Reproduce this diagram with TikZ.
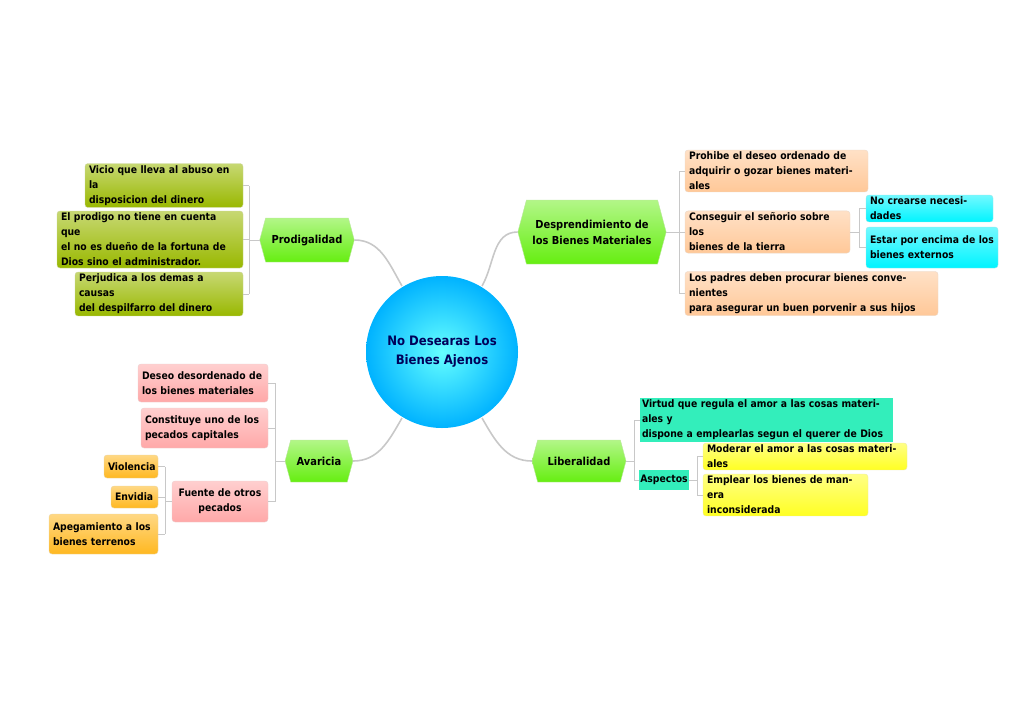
\documentclass[tikz,border=0pt]{standalone}
\usepackage{fontspec}
\setmainfont{DejaVu Sans Condensed}
\usetikzlibrary{shapes.symbols,calc}
\definecolor{olive}{HTML}{99B800}
\definecolor{peach}{HTML}{FFC898}
\definecolor{pinkl}{HTML}{FFA8A8}
\definecolor{orng}{HTML}{FFB820}
\definecolor{tealc}{HTML}{33EEBB}
\definecolor{yel}{HTML}{FFFF22}
\definecolor{cyn}{HTML}{00F4FF}
\definecolor{grn}{HTML}{66EE11}
\definecolor{ln}{HTML}{C8C8C8}
\tikzset{
 leaf/.style={rounded corners=3pt,align=left,inner xsep=4pt,inner ysep=2pt,font=\bfseries\fontsize{10.3}{15}\selectfont,draw=#1!80!black!40!white,top color=#1!55!white,bottom color=#1},
 mainn/.style={signal,signal to=east and west,signal pointer angle=150,draw=grn!80!black!40!white,top color=grn!50!white,bottom color=grn,align=center,font=\bfseries\fontsize{11}{16}\selectfont,inner xsep=6pt,inner ysep=4pt},
 conn/.style={draw=ln,line width=0.8pt},
 curve/.style={draw=ln,line width=1.6pt},
}
\newcommand{\leafbox}[7]{\node[leaf=#6,minimum width={#4-#2},minimum height={#5-#3},text width={#4-#2-8},anchor=center] (#1) at ({(#2+#4)/2},{(#3+#5)/2}) {#7};}
\begin{document}
\begin{tikzpicture}[x=1pt,y=-1pt]
\useasboundingbox (0,0) rectangle (1024,724);
% center
\shade[inner color=cyan!60!white,outer color=cyan!70!blue] (442,352) circle (76);
\node[circle,minimum size=152pt,align=center,font=\bfseries\fontsize{13}{19}\selectfont,text=blue!35!black] (c) at (442,352) {No Desearas Los\\Bienes Ajenos};
% main nodes
\node[mainn,minimum width=90pt,minimum height=44pt] (pr) at (307,240) {Prodigalidad};
\node[mainn,minimum width=140pt,minimum height=64pt] (de) at (592,232) {Desprendimiento de\\los Bienes Materiales};
\node[mainn,minimum width=66pt,minimum height=42pt] (av) at (319,461) {Avaricia};
\node[mainn,minimum width=94pt,minimum height=42pt] (li) at (579,461) {Liberalidad};
\draw[curve] (pr.east) to[out=0,in=120] ($(c)+(-40,-66)$);
\draw[curve] (de.west) to[out=180,in=60] ($(c)+(40,-66)$);
\draw[curve] (av.east) to[out=0,in=-120] ($(c)+(-40,66)$);
\draw[curve] (li.west) to[out=180,in=-60] ($(c)+(40,66)$);
% Prodigalidad leaves
\leafbox{p1}{85}{167}{243}{204}{olive}{Vicio que lleva al abuso en la\\disposicion del dinero}
\leafbox{p2}{57}{211}{243}{268}{olive}{El prodigo no tiene en cuenta que\\el no es dueño de la fortuna de\\Dios sino el administrador.}
\leafbox{p3}{75}{275}{243}{313}{olive}{Perjudica a los demas a causas\\del despilfarro del dinero}
\coordinate (bp) at (249,0);
\draw[conn] (pr.west) -- (pr.west -| bp);
\foreach \n in {p1,p2,p3} \draw[conn] (\n.east) -- (\n.east -| bp);
\draw[conn] (p1.east -| bp) -- (p3.east -| bp);
% Desprendimiento leaves
\leafbox{d1}{685}{152}{868}{190}{peach}{Prohibe el deseo ordenado de\\adquirir o gozar bienes materiales}
\leafbox{d2}{685}{212}{850}{252}{peach}{Conseguir el señorio sobre los\\bienes de la tierra}
\leafbox{d3}{685}{274}{938}{313}{peach}{Los padres deben procurar bienes convenientes\\para asegurar un buen porvenir a sus hijos}
\coordinate (bd) at (679,0);
\draw[conn] (de.east) -- (de.east -| bd);
\foreach \n in {d1,d2,d3} \draw[conn] (\n.west) -- (\n.west -| bd);
\draw[conn] (d1.west -| bd) -- (d3.west -| bd);
\leafbox{e1}{866}{197}{993}{220}{cyn}{No crearse necesidades}
\leafbox{e2}{866}{227}{998}{268}{cyn}{Estar por encima de los\\bienes externos}
\coordinate (be) at (859,0);
\draw[conn] (d2.east) -- (d2.east -| be);
\foreach \n in {e1,e2} \draw[conn] (\n.west) -- (\n.west -| be);
\draw[conn] (e1.west -| be) -- (e2.west -| be);
% Avaricia leaves
\leafbox{a1}{138}{364}{268}{402}{pinkl}{Deseo desordenado de\\los bienes materiales}
\leafbox{a2}{141}{408}{268}{448}{pinkl}{Constituye uno de los\\pecados capitales}
\node[leaf=pinkl,minimum width=96pt,minimum height=41pt,align=center] (a3) at (220,501.5) {Fuente de otros\\pecados};
\coordinate (ba) at (275,0);
\draw[conn] (av.west) -- (av.west -| ba);
\foreach \n in {a1,a2,a3} \draw[conn] (\n.east) -- (\n.east -| ba);
\draw[conn] (a1.east -| ba) -- (a3.east -| ba);
\leafbox{o1}{104}{455}{158}{478}{orng}{Violencia}
\leafbox{o2}{111}{486}{158}{508}{orng}{Envidia}
\leafbox{o3}{49}{514}{158}{554}{orng}{Apegamiento a los\\bienes terrenos}
\coordinate (bo) at (165,0);
\draw[conn] (a3.west) -- (a3.west -| bo);
\foreach \n in {o1,o2,o3} \draw[conn] (\n.east) -- (\n.east -| bo);
\draw[conn] (o1.east -| bo) -- (o3.east -| bo);
% Liberalidad leaves
\node[fill=tealc,align=left,inner sep=2pt,font=\bfseries\fontsize{10.3}{15}\selectfont,minimum width=253pt,minimum height=36pt,text width=249pt] (l1) at (766.5,420) {Virtud que regula el amor a las cosas materiales y\\dispone a emplearlas segun el querer de Dios};
\node[fill=tealc,inner sep=1pt,font=\bfseries\fontsize{10.3}{15}\selectfont,minimum width=48pt,minimum height=20pt] (l2) at (664,480) {Aspectos};
\coordinate (bl) at (634,0);
\draw[conn] (li.east) -- (li.east -| bl);
\foreach \n in {l1,l2} \draw[conn] (\n.west) -- (\n.west -| bl);
\draw[conn] (l1.west -| bl) -- (l2.west -| bl);
\leafbox{y1}{703}{445}{907}{468}{yel}{Moderar el amor a las cosas materiales}
\leafbox{y2}{703}{475}{868}{515}{yel}{Emplear los bienes de manera\\inconsiderada}
\coordinate (by) at (697,0);
\draw[conn] (l2.east) -- (l2.east -| by);
\foreach \n in {y1,y2} \draw[conn] (\n.west) -- (\n.west -| by);
\draw[conn] (y1.west -| by) -- (y2.west -| by);
\end{tikzpicture}
\end{document}
